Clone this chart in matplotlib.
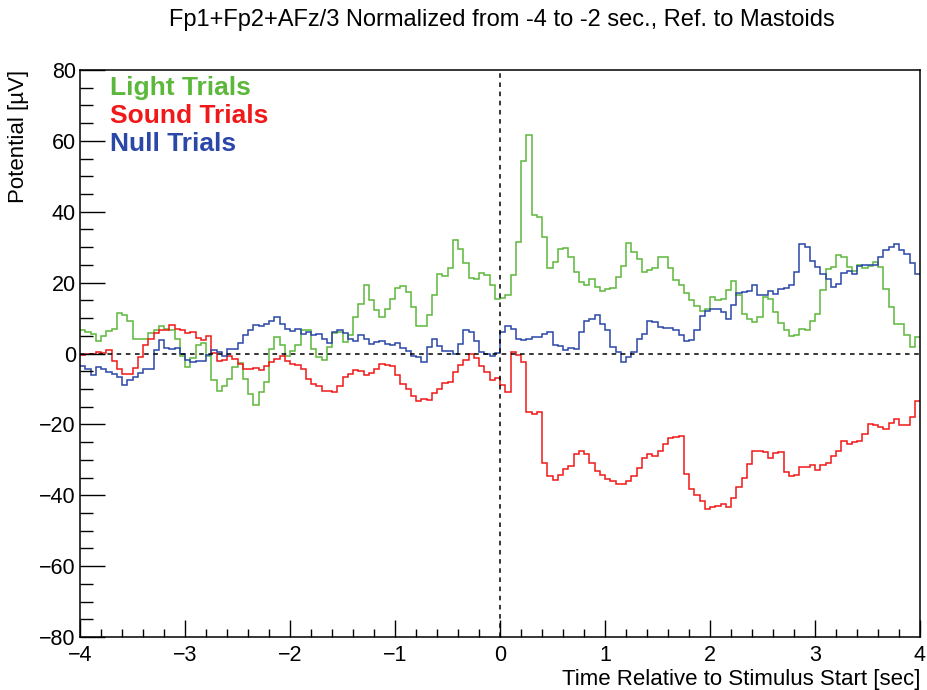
import numpy as np
import matplotlib
matplotlib.use("Agg")
import matplotlib.pyplot as plt
from matplotlib.ticker import MultipleLocator

plt.rcParams['font.family'] = ['Liberation Sans', 'DejaVu Sans']

# ======= Data: 160 bins of 0.05 s from -4 to 4 s (values in uV) =======
t_min, t_max = -4.0, 4.0

light = [
    6.6, 6.2, 5.4, 3.5, 4.9, 6.3, 6.8, 11.3, 10.8, 9.2,
    4.0, 4.0, 4.0, 5.7, 6.6, 7.7, 6.8, 6.6, 4.0, -0.8,
    -3.8, -1.2, 2.3, 3.0, -0.8, -7.4, -10.7, -9.2, -7.2, -3.9,
    -2.6, -7.2, -11.5, -14.5, -10.9, -8.1, 1.3, 4.6, 2.3, -0.8,
    0.6, 2.3, 6.5, 6.5, 1.3, -1.0, -1.8, 1.8, 5.8, 6.0,
    3.2, 5.1, 10.3, 14.1, 19.2, 15.0, 12.2, 10.3, 12.5, 15.5,
    18.5, 19.1, 17.4, 13.1, 7.9, 7.9, 10.8, 16.4, 22.3, 21.9,
    24.0, 32.1, 29.6, 25.4, 21.3, 21.1, 22.8, 22.1, 19.2, 15.5,
    15.8, 16.4, 22.1, 31.5, 54.2, 61.7, 39.1, 38.6, 32.9, 24.0,
    25.8, 29.6, 29.8, 27.3, 23.0, 20.2, 19.2, 21.1, 18.8, 17.5,
    18.3, 18.5, 21.6, 24.7, 31.3, 28.7, 26.8, 23.0, 23.5, 24.0,
    27.3, 27.3, 24.2, 20.7, 19.4, 17.2, 15.0, 13.4, 11.9, 12.6,
    15.9, 15.0, 15.5, 17.8, 20.4, 16.4, 11.2, 9.8, 8.9, 10.3,
    15.9, 15.3, 11.7, 8.7, 6.5, 4.9, 5.1, 7.0, 6.7, 9.3,
    11.2, 17.8, 23.8, 24.4, 27.7, 27.3, 24.4, 23.2, 25.1, 24.2,
    24.7, 25.8, 24.4, 18.3, 13.1, 8.4, 8.2, 5.1, 1.8, 4.6,
]

sound = [
    -0.3, 0.0, 0.0, 0.4, 0.2, 0.9, -2.2, -4.3, -5.7, -5.9,
    -4.1, -0.9, 2.5, 4.2, 5.7, 6.6, 6.6, 8.0, 6.8, 6.6,
    5.7, 6.0, 4.4, 3.8, 4.9, 0.2, -2.2, -1.7, -0.6, -1.5,
    -2.9, -4.3, -4.3, -4.2, -4.7, -3.6, -2.3, -1.5, -0.6, -2.0,
    -2.9, -3.2, -4.3, -7.2, -8.6, -9.2, -10.5, -10.5, -10.8, -9.1,
    -6.5, -5.8, -4.7, -4.8, -6.0, -5.5, -4.3, -2.9, -3.2, -3.4,
    -6.2, -8.6, -10.0, -11.9, -13.3, -12.8, -13.0, -11.1, -10.0, -8.3,
    -8.1, -5.3, -3.2, -1.7, -0.1, -1.3, -3.6, -5.3, -7.5, -7.0,
    -8.9, -10.8, 0.4, -0.4, -2.5, -16.6, -17.1, -16.4, -30.8, -34.5,
    -35.8, -34.3, -32.6, -31.7, -28.4, -27.5, -28.4, -30.8, -33.1, -34.3,
    -35.3, -35.9, -36.9, -36.9, -35.9, -34.5, -32.2, -29.6, -28.5, -28.9,
    -27.5, -25.6, -23.9, -23.7, -23.4, -34.1, -38.1, -40.0, -41.6, -44.0,
    -43.2, -43.0, -42.5, -43.2, -40.7, -37.8, -35.0, -31.2, -27.5, -27.5,
    -27.9, -29.6, -28.1, -27.9, -33.5, -34.7, -34.3, -32.1, -32.1, -31.5,
    -32.8, -31.5, -31.0, -29.0, -27.4, -24.6, -25.5, -25.0, -24.6, -22.7,
    -19.9, -20.3, -20.8, -21.3, -19.6, -18.5, -20.2, -20.3, -18.0, -13.3,
]

null = [
    -3.6, -4.3, -6.2, -3.8, -4.5, -5.3, -5.9, -6.6, -8.8, -7.4,
    -6.6, -5.5, -4.3, -4.5, 1.1, 3.8, 1.6, 1.3, 1.6, 0.0,
    -1.9, -2.3, -2.2, -2.2, -0.3, 1.1, 0.4, -0.6, 1.3, 1.3,
    3.0, 5.3, 6.6, 8.1, 7.7, 8.3, 9.3, 10.2, 8.4, 7.0,
    6.4, 6.8, 5.6, 6.0, 5.3, 5.6, 4.2, 3.0, 6.0, 6.5,
    5.8, 4.2, 3.4, 5.1, 4.0, 2.7, 3.2, 3.4, 2.8, 2.3,
    3.0, 1.5, 0.7, -0.6, -1.0, -2.3, 1.8, 4.0, 2.0, 0.6,
    0.8, -0.1, 2.7, 6.5, 6.2, 3.4, 0.4, -0.1, -0.8, 0.2,
    6.0, 7.7, 7.0, 4.2, 3.7, 4.0, 4.6, 4.6, 5.6, 6.0,
    2.3, 2.1, 1.1, 1.5, 1.3, 6.0, 9.3, 9.8, 10.9, 8.4,
    6.5, 1.8, 0.4, -2.3, -1.0, 0.4, 4.2, 5.6, 9.1, 8.9,
    7.5, 7.3, 7.2, 6.5, 5.1, 3.4, 3.7, 6.5, 10.6, 12.1,
    12.6, 12.6, 11.7, 9.8, 13.8, 17.2, 17.4, 17.7, 19.2, 16.4,
    16.6, 17.5, 16.9, 18.1, 18.5, 19.2, 23.0, 31.0, 30.1, 26.0,
    24.4, 22.5, 21.1, 18.8, 19.7, 22.8, 23.2, 22.5, 24.7, 24.9,
    24.9, 24.9, 27.3, 29.1, 30.1, 30.8, 29.2, 28.2, 25.4, 22.5,
]

series_names = ["Light Trials", "Sound Trials", "Null Trials"]
series_colors = ["#5cb83c", "#f01818", "#2b47a8"]

edges = np.linspace(t_min, t_max, len(light) + 1)

# ======= Plot =======
W, H = 927, 690
fig = plt.figure(figsize=(W / 100, H / 100), dpi=100)
ax = fig.add_axes([80 / W, 1 - 637 / H, 840 / W, 567 / H])

for vals, col in zip([light, sound, null], series_colors):
    ax.stairs(vals, edges, color=col, lw=1.1, baseline=None)

ax.axhline(0, color='black', ls=(0, (3, 3)), lw=1.1)
ax.axvline(0, color='black', ls=(0, (3, 3)), lw=1.1)

ax.set_xlim(t_min, t_max)
ax.set_ylim(-80, 80)
ax.xaxis.set_major_locator(MultipleLocator(1))
ax.xaxis.set_minor_locator(MultipleLocator(0.2))
ax.yaxis.set_major_locator(MultipleLocator(20))
ax.yaxis.set_minor_locator(MultipleLocator(5))
ax.tick_params(axis='x', which='major', direction='in', length=12, width=1,
               labelsize=15.5, pad=6)
ax.tick_params(axis='x', which='minor', direction='in', length=6, width=1)
ax.tick_params(axis='y', which='major', direction='in', length=18, width=1,
               labelsize=15.5, pad=3)
ax.tick_params(axis='y', which='minor', direction='in', length=9, width=1)
for s in ax.spines.values():
    s.set_linewidth(1.1)

fig.text(502 / W, 1 - 20 / H,
         "Fp1+Fp2+AFz/3 Normalized from -4 to -2 sec., Ref. to Mastoids",
         ha='center', va='center', fontsize=17)
fig.text(920 / W, 1 - 679 / H, "Time Relative to Stimulus Start [sec]",
         ha='right', va='center', fontsize=16)
fig.text(19 / W, 1 - 70 / H, "Potential [\u00b5V]", rotation=90,
         ha='center', va='top', fontsize=16)

for i, (name, col) in enumerate(zip(series_names, series_colors)):
    fig.text(110 / W, 1 - (88 + 28 * i) / H, name, color=col,
             fontsize=19, fontweight='bold', ha='left', va='center')

fig.savefig("out.png", dpi=100)
plt.close(fig)
